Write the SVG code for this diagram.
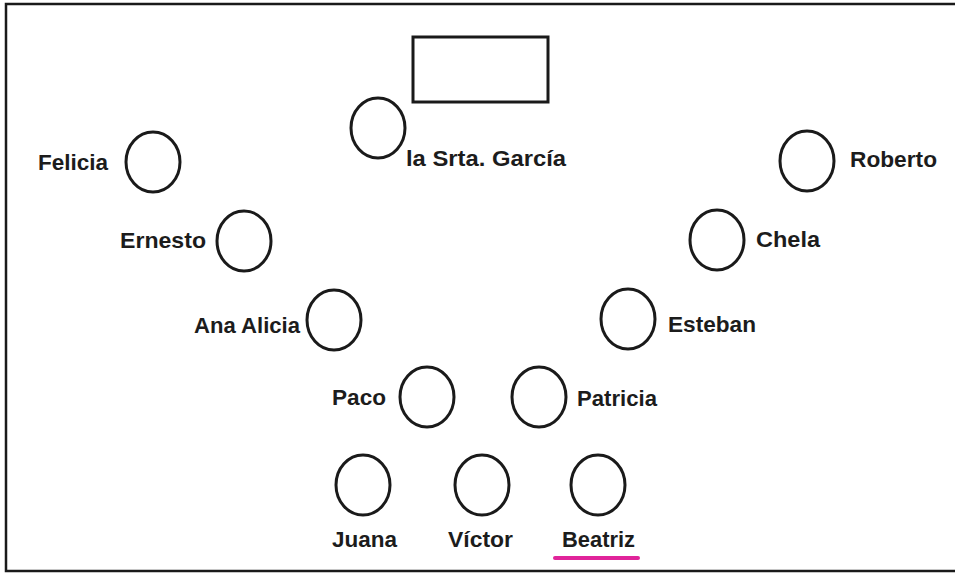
<svg xmlns="http://www.w3.org/2000/svg" width="955" height="573" viewBox="0 0 955 573">
  <style>
    .seat { fill: none; stroke: #1a1a1a; stroke-width: 3; }
    .lbl { font-family: "Liberation Sans", Arial, sans-serif; font-weight: bold; font-size: 22px; fill: #1c1c1c; }
  </style>
  <rect x="0" y="0" width="955" height="573" fill="#ffffff"/>
  <path d="M955,4 H6 V571 H955" fill="none" stroke="#1a1a1a" stroke-width="2.5"/>
  <g id="desk"><rect x="413" y="37" width="135" height="65" fill="none" stroke="#1a1a1a" stroke-width="3"/></g>
  <g id="garcia"><ellipse class="seat" cx="378" cy="128" rx="27" ry="30"/><text class="lbl" x="406" y="166" textLength="160" lengthAdjust="spacingAndGlyphs">la Srta. García</text></g>
  <g id="felicia"><ellipse class="seat" cx="153" cy="162" rx="27" ry="30"/><text class="lbl" x="38" y="170" textLength="70" lengthAdjust="spacingAndGlyphs">Felicia</text></g>
  <g id="roberto"><ellipse class="seat" cx="807" cy="161" rx="27" ry="30"/><text class="lbl" x="850" y="167" textLength="87" lengthAdjust="spacingAndGlyphs">Roberto</text></g>
  <g id="ernesto"><ellipse class="seat" cx="244" cy="241" rx="27" ry="30"/><text class="lbl" x="120" y="248" textLength="86" lengthAdjust="spacingAndGlyphs">Ernesto</text></g>
  <g id="chela"><ellipse class="seat" cx="717" cy="240" rx="27" ry="30"/><text class="lbl" x="756" y="247" textLength="64" lengthAdjust="spacingAndGlyphs">Chela</text></g>
  <g id="ana-alicia"><ellipse class="seat" cx="334" cy="320" rx="27" ry="30"/><text class="lbl" x="194" y="333" textLength="106" lengthAdjust="spacingAndGlyphs">Ana Alicia</text></g>
  <g id="esteban"><ellipse class="seat" cx="628" cy="319" rx="27" ry="30"/><text class="lbl" x="668" y="332" textLength="88" lengthAdjust="spacingAndGlyphs">Esteban</text></g>
  <g id="paco"><ellipse class="seat" cx="427" cy="397" rx="27" ry="30"/><text class="lbl" x="332" y="405" textLength="54" lengthAdjust="spacingAndGlyphs">Paco</text></g>
  <g id="patricia"><ellipse class="seat" cx="539" cy="397" rx="27" ry="30"/><text class="lbl" x="577" y="406" textLength="80" lengthAdjust="spacingAndGlyphs">Patricia</text></g>
  <g id="juana"><ellipse class="seat" cx="363" cy="485" rx="27" ry="30"/><text class="lbl" x="332" y="547" textLength="65" lengthAdjust="spacingAndGlyphs">Juana</text></g>
  <g id="victor"><ellipse class="seat" cx="482" cy="485" rx="27" ry="30"/><text class="lbl" x="448" y="547" textLength="65" lengthAdjust="spacingAndGlyphs">Víctor</text></g>
  <g id="beatriz"><ellipse class="seat" cx="598" cy="485" rx="27" ry="30"/><text class="lbl" x="562" y="547" textLength="73" lengthAdjust="spacingAndGlyphs">Beatriz</text>
    <line x1="555" y1="558" x2="638" y2="558" stroke="#e0249a" stroke-width="4" stroke-linecap="round"/></g>
</svg>
